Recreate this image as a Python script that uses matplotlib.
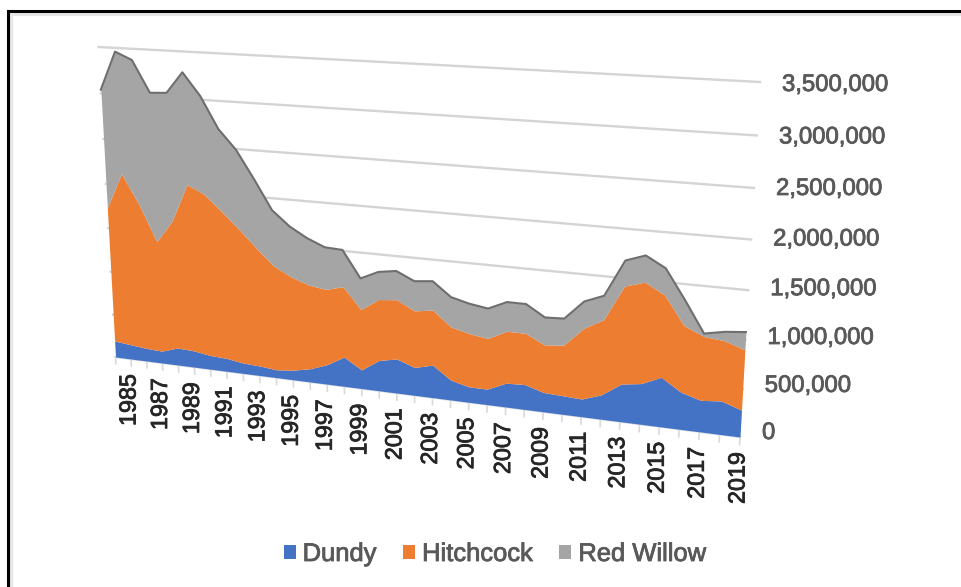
import numpy as np
import matplotlib
matplotlib.use("Agg")
import matplotlib.pyplot as plt
import matplotlib.patheffects as pe
from matplotlib.patches import Patch
from matplotlib.transforms import Transform

plt.rcParams["font.family"] = ["Liberation Sans", "DejaVu Sans"]

YEARS = list(range(1984, 2020))
DUNDY = [190000, 170000, 150000, 140000, 200000, 190000, 160000, 150000, 120000, 110000, 90000, 110000,
         150000, 220000, 330000, 210000, 340000, 380000, 310000, 360000, 220000, 170000, 170000, 260000,
         270000, 210000, 200000, 190000, 260000, 400000, 430000, 520000, 390000, 330000, 350000, 280000]
HITCHCOCK = [1540000, 1960000, 1650000, 1260000, 1450000, 1880000, 1820000, 1660000, 1510000, 1330000, 1170000, 1050000,
             940000, 840000, 780000, 670000, 670000, 650000, 620000, 600000, 580000, 580000, 550000, 560000,
             550000, 510000, 540000, 750000, 790000, 1020000, 1050000, 850000, 690000, 660000, 620000, 620000]
RED_WILLOW = [1310000, 1330000, 1580000, 1640000, 1400000, 1210000, 1060000, 890000, 860000, 750000, 610000, 550000,
              510000, 460000, 400000, 340000, 300000, 310000, 320000, 310000, 320000, 320000, 320000, 310000,
              310000, 290000, 280000, 280000, 250000, 260000, 270000, 270000, 260000, 30000, 90000, 180000]
VALUE_TICKS = [0, 500000, 1000000, 1500000, 2000000, 2500000, 3000000, 3500000]
YEAR_LABELS = list(range(1985, 2020, 2))

COLORS = ["#4472C4", "#ED7D31", "#A5A5A5"]
NAMES = ["Dundy", "Hitchcock", "Red Willow"]


def solve_homography(src, dst):
    rows, rhs = [], []
    for (x, y), (u, v) in zip(src, dst):
        rows.append([x, y, 1, 0, 0, 0, -u * x, -u * y])
        rows.append([0, 0, 0, x, y, 1, -v * x, -v * y])
        rhs += [u, v]
    return np.append(np.linalg.solve(np.array(rows, float), np.array(rhs, float)), 1).reshape(3, 3)


class TiltedChart(Transform):
    # the Excel 3-D view: (year, value) onto figure pixels, y down
    input_dims = 2
    output_dims = 2

    def __init__(self, matrix):
        super().__init__()
        self.matrix = matrix

    def transform_non_affine(self, values):
        q = np.c_[values, np.ones(len(values))] @ self.matrix.T
        return q[:, :2] / q[:, 2:]


corners_data = [(1984, 0), (2019, 0), (2019, 3500000), (1984, 3500000)]
corners_px = [(115.5, 357), (740, 437), (760, 82), (98.5, 47)]
tilt = TiltedChart(solve_homography(corners_data, corners_px))

fig = plt.figure(figsize=(9.61, 5.87), dpi=100)
ax = fig.add_axes([0, 0, 1, 1])
ax.set_xlim(0, 961)
ax.set_ylim(587, 0)
ax.axis("off")
chart = tilt + ax.transData


def heavy(color, width):
    # the blurred screenshot text reads heavier than the regular weight
    return [pe.withStroke(linewidth=width, foreground=color)]


# gridlines sit behind the areas
for v in VALUE_TICKS[1:]:
    ax.plot([1984, 1986, 2019], [v, v, v], color="#D4D4D4", lw=1.7, transform=chart, zorder=1)

# stacked areas
years = np.array(YEARS, dtype=float)
bottom = np.zeros(len(years))
for series, color in zip([DUNDY, HITCHCOCK, RED_WILLOW], COLORS):
    top = bottom + np.array(series, dtype=float)
    ax.fill_between(years, bottom, top, color=color, lw=0, transform=chart, zorder=2)
    bottom = top
ax.plot(years, bottom, color="#6E6E6E", lw=1.5, transform=chart, zorder=3)

# category axis and its ticks
ax.plot(years, np.zeros(len(years)), color="#D6DCE5", lw=1.6, transform=chart, zorder=1)
for yr in YEARS:
    ax.plot([yr, yr], [0, -80000], color="#D9D9D9", lw=1.2, transform=chart, zorder=1)

for yr in YEAR_LABELS:
    ax.annotate(str(yr), xy=(yr, 0), xycoords=chart, xytext=(-2, -15), textcoords="offset pixels",
                rotation=90, ha="center", va="top", fontsize=16.8, color="#262626",
                path_effects=heavy("#262626", 0.6))

for v in VALUE_TICKS:
    shift = -4 + 7 * v / 3500000
    ax.annotate(f"{v:,}", xy=(2019, v), xycoords=chart, xytext=(22, -shift), textcoords="offset pixels",
                ha="left", va="center", fontsize=17.2, color="#595959",
                path_effects=heavy("#595959", 0.6))

handles = [Patch(facecolor=c, edgecolor="none") for c in COLORS]
leg = ax.legend(handles, NAMES, ncol=3, frameon=False, loc="center", bbox_to_anchor=(495 / 961, 1 - 554 / 587),
                fontsize=18.4, labelcolor="#595959", handlelength=0.47, handleheight=0.47,
                handletextpad=0.27, columnspacing=1.05)
for t in leg.get_texts():
    t.set_path_effects(heavy("#595959", 0.6))

# the black frame of the pasted picture, with its soft inner shadow
ax.plot([7.5, 7.5, 961], [587, 11, 11], color="#000000", lw=2.2, zorder=6, solid_joinstyle="miter")
ax.plot([11, 11, 961], [587, 14, 14], color="#E6E6E6", lw=3, zorder=5, solid_joinstyle="miter")

fig.savefig("out.png", dpi=100)
